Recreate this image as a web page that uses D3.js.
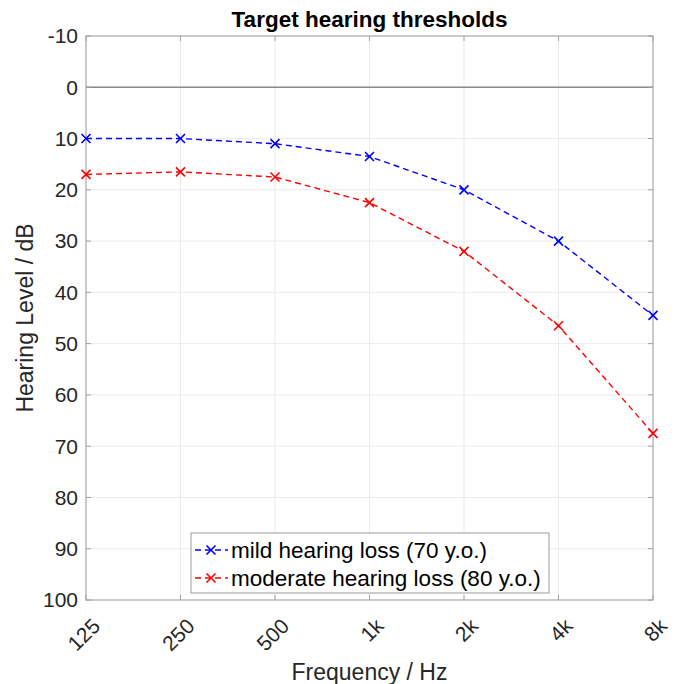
<!DOCTYPE html>
<html>
<head>
<meta charset="utf-8">
<script src="https://cdn.jsdelivr.net/npm/d3@7"></script>
<style>
  body { margin: 0; background: #fff; }
  svg { display: block; font-family: "Liberation Sans", Arial, sans-serif; }
</style>
</head>
<body>
<svg id="chart" width="683" height="684"></svg>
<script>
// data
const freqs = [125, 250, 500, 1000, 2000, 4000, 8000];
const freqLabels = ["125", "250", "500", "1k", "2k", "4k", "8k"];
const mildLoss = [10, 10, 11, 13.5, 20, 30, 44.5];
const moderateLoss = [17, 16.5, 17.5, 22.5, 32, 46.5, 67.5];
const yTicks = [-10, 0, 10, 20, 30, 40, 50, 60, 70, 80, 90, 100];

const series = [
  { name: "mild hearing loss (70 y.o.)", values: mildLoss, color: "#0000ff" },
  { name: "moderate hearing loss (80 y.o.)", values: moderateLoss, color: "#ff0000" }
];

const m = { left: 86, right: 30, top: 36, bottom: 84 };
const W = 683, H = 684;
const iw = W - m.left - m.right, ih = H - m.top - m.bottom;

const svg = d3.select("#chart");
const g = svg.append("g").attr("transform", `translate(${m.left},${m.top})`);

const x = d3.scaleLog().base(2).domain([125, 8000]).range([0, iw]);
const y = d3.scaleLinear().domain([-10, 100]).range([0, ih]);

// grid
g.append("g").selectAll("line").data(freqs).join("line")
  .attr("x1", d => x(d)).attr("x2", d => x(d))
  .attr("y1", 0).attr("y2", ih)
  .attr("stroke", "#ebebeb").attr("stroke-width", 1);
g.append("g").selectAll("line").data(yTicks).join("line")
  .attr("x1", 0).attr("x2", iw)
  .attr("y1", d => y(d)).attr("y2", d => y(d))
  .attr("stroke", "#ebebeb").attr("stroke-width", 1);

// zero line
g.append("line")
  .attr("x1", 0).attr("x2", iw).attr("y1", y(0)).attr("y2", y(0))
  .attr("stroke", "#8a8a8a").attr("stroke-width", 1.3);

// box with inward ticks on all four sides
const axisColor = "#a0a0a0";
const tl = 5;
g.append("rect").attr("width", iw).attr("height", ih)
  .attr("fill", "none").attr("stroke", axisColor).attr("stroke-width", 1);
const tk = g.append("g").attr("stroke", axisColor).attr("stroke-width", 1);
yTicks.forEach(v => {
  tk.append("line").attr("x1", 0).attr("x2", tl).attr("y1", y(v)).attr("y2", y(v));
  tk.append("line").attr("x1", iw - tl).attr("x2", iw).attr("y1", y(v)).attr("y2", y(v));
});
freqs.forEach(f => {
  tk.append("line").attr("x1", x(f)).attr("x2", x(f)).attr("y1", ih - tl).attr("y2", ih);
  tk.append("line").attr("x1", x(f)).attr("x2", x(f)).attr("y1", 0).attr("y2", tl);
});

// y tick labels
g.append("g").selectAll("text").data(yTicks).join("text")
  .attr("x", -8).attr("y", d => y(d)).attr("dy", "0.35em")
  .attr("text-anchor", "end").attr("font-size", 21).attr("fill", "#262626")
  .text(d => d);

// x tick labels rotated
g.append("g").selectAll("text").data(freqs).join("text")
  .attr("transform", (d) => `translate(${x(d) + 5},${ih + 17}) rotate(-45)`)
  .attr("text-anchor", "end").attr("dy", "0.7em").attr("font-size", 21).attr("fill", "#262626")
  .text((d, i) => freqLabels[i]);

// lines and markers
const line = d3.line().x((d, i) => x(freqs[i])).y(d => y(d));
const ms = 4.5;
series.forEach(s => {
  g.append("path").datum(s.values)
    .attr("d", line).attr("fill", "none")
    .attr("stroke", s.color).attr("stroke-width", 1.4)
    .attr("stroke-dasharray", "6,4");
  g.append("g").selectAll("path").data(s.values).join("path")
    .attr("d", (d, i) => {
      const cx = x(freqs[i]), cy = y(d);
      return `M${cx - ms},${cy - ms}L${cx + ms},${cy + ms}M${cx - ms},${cy + ms}L${cx + ms},${cy - ms}`;
    })
    .attr("stroke", s.color).attr("stroke-width", 1.6);
});

// legend
const lg = svg.append("g").attr("transform", "translate(191,533)");
lg.append("rect").attr("width", 358).attr("height", 60)
  .attr("fill", "#fff").attr("stroke", "#9a9a9a").attr("stroke-width", 1);
series.forEach((s, i) => {
  const ly = 17 + i * 28;
  lg.append("line").attr("x1", 3).attr("x2", 37).attr("y1", ly).attr("y2", ly)
    .attr("stroke", s.color).attr("stroke-width", 1.4).attr("stroke-dasharray", "6,4")
    .attr("stroke-dashoffset", -1);
  lg.append("path")
    .attr("d", `M${20 - ms},${ly - ms}L${20 + ms},${ly + ms}M${20 - ms},${ly + ms}L${20 + ms},${ly - ms}`)
    .attr("stroke", s.color).attr("stroke-width", 1.6);
  lg.append("text").attr("x", 40).attr("y", ly).attr("dy", "0.35em")
    .attr("font-size", 22.5).attr("fill", "#000").text(s.name);
});

// title and axis labels
svg.append("text").attr("x", m.left + iw / 2).attr("y", 27)
  .attr("text-anchor", "middle").attr("font-size", 22.5).attr("font-weight", "bold")
  .attr("fill", "#000").text("Target hearing thresholds");
svg.append("text").attr("transform", `translate(33,${m.top + ih / 2}) rotate(-90)`)
  .attr("text-anchor", "middle").attr("font-size", 23).attr("fill", "#262626")
  .text("Hearing Level / dB");
svg.append("text").attr("x", m.left + iw / 2).attr("y", 680)
  .attr("text-anchor", "middle").attr("font-size", 23).attr("fill", "#262626")
  .text("Frequency / Hz");
</script>
</body>
</html>
